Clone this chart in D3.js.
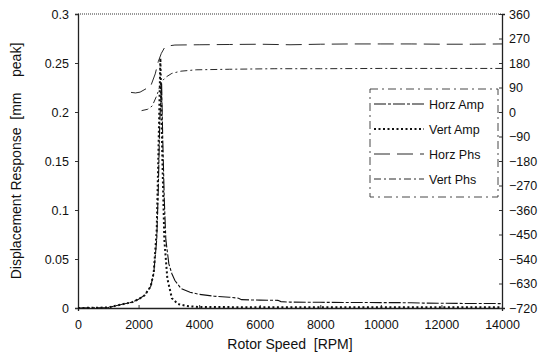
<!DOCTYPE html>
<html>
<head>
<meta charset="utf-8">
<script src="https://cdn.jsdelivr.net/npm/d3@7"></script>
<style>
  body { margin: 0; background: #fff; }
  text { font-family: "Liberation Sans", Arial, sans-serif; fill: #111; }
</style>
</head>
<body>
<div id="graph"></div>
<script>
const margin = { top: 14, right: 48, bottom: 50, left: 78 };
const w = 550 - margin.left - margin.right;
const h = 358 - margin.top - margin.bottom;

// 振幅資料 (RPM, mm)
const horzAmpRpm = [0, 1000, 1200, 1500, 1800, 2000, 2200, 2400, 2500, 2600, 2650, 2700, 2760, 2800, 2850, 2900, 3000, 3100, 3200, 3400, 3700, 4000, 4500, 5000, 5300, 5400, 6000, 6600, 6700, 7000, 8000, 9000, 10000, 11000, 11400, 12000, 13000, 14000];
const horzAmp = [0, 0.0005, 0.002, 0.004, 0.006, 0.009, 0.013, 0.022, 0.035, 0.07, 0.12, 0.19, 0.23, 0.17, 0.11, 0.07, 0.045, 0.035, 0.028, 0.02, 0.016, 0.014, 0.012, 0.011, 0.010, 0.0085, 0.008, 0.0078, 0.0065, 0.006, 0.0058, 0.0056, 0.0055, 0.0054, 0.005, 0.0048, 0.0046, 0.0045];
const vertAmpRpm = [0, 1000, 1200, 1500, 1800, 2000, 2200, 2400, 2500, 2600, 2650, 2720, 2780, 2850, 2950, 3100, 3300, 3600, 4000, 6000, 8000, 10000, 12000, 14000];
const vertAmp = [0, 0.0005, 0.002, 0.004, 0.006, 0.009, 0.013, 0.022, 0.036, 0.08, 0.15, 0.255, 0.16, 0.07, 0.03, 0.01, 0.004, 0.002, 0.001, 0.0008, 0.0008, 0.0007, 0.0007, 0.0007];

// 相位資料 (RPM, deg)
const horzPhsRpm = [1750, 1900, 2050, 2400, 2550, 2650, 2750, 2850, 3000, 3200, 4000, 5000, 6000, 7000, 8000, 9000, 10000, 11000, 12000, 13000, 14000];
const horzPhs = [72, 70, 73, 95, 140, 185, 215, 235, 243, 246, 247, 248, 249, 247, 249, 250, 250, 250, 249, 249, 250];
const vertPhsRpm = [2100, 2300, 2450, 2600, 2750, 2900, 3100, 3400, 3900, 5000, 6500, 8000, 10000, 12000, 14000];
const vertPhs = [5, 10, 22, 60, 110, 128, 142, 150, 155, 157, 159, 159, 160, 160, 160];

const xTicks = [0, 2000, 4000, 6000, 8000, 10000, 12000, 14000];
const yTicks = [0, 0.05, 0.1, 0.15, 0.2, 0.25, 0.3];
const phsTicks = [360, 270, 180, 90, 0, -90, -180, -270, -360, -450, -540, -630, -720];

const legendNames = ["Horz Amp", "Vert Amp", "Horz Phs", "Vert Phs"];
const styles = [
  { dash: "12,2,3,2", width: 1.1 },
  { dash: "2,2.5", width: 2 },
  { dash: "16,7", width: 0.9 },
  { dash: "7,3,2,3", width: 0.9 },
];

const xScale = d3.scaleLinear().domain([0, 14000]).range([0, w]);
const yScale = d3.scaleLinear().domain([0, 0.3]).range([h, 0]);
const pScale = d3.scaleLinear().domain([-720, 360]).range([h, 0]);

const svg = d3
  .select("#graph")
  .append("svg")
  .attr("width", 550)
  .attr("height", 358)
  .append("g")
  .attr("transform", "translate(" + margin.left + "," + margin.top + ")");

// 外框
svg.append("line").attr("x1", 0).attr("x2", w).attr("y1", 0).attr("y2", 0)
  .attr("stroke", "#333").attr("stroke-width", 1.2).attr("stroke-dasharray", "1,1");

const xAxis = d3.axisBottom(xScale).tickValues(xTicks).tickSize(3).tickFormat(d3.format("d"));
const gx = svg.append("g").attr("transform", "translate(0," + h + ")").call(xAxis);
gx.selectAll(".tick line").attr("y2", -3);
gx.selectAll(".tick text").attr("y", 12);

const yAxis = d3.axisLeft(yScale).tickValues(yTicks).tickSize(3).tickFormat((d) => d === 0 ? "0" : String(+d.toFixed(2)));
const gy = svg.append("g").call(yAxis);
gy.selectAll(".tick text").attr("x", -9);

const pAxis = d3.axisRight(pScale).tickValues(phsTicks).tickSize(3);
const gp = svg.append("g").attr("transform", "translate(" + w + ",0)").call(pAxis);
gp.selectAll(".tick line").attr("x2", -3);
gp.selectAll(".tick text").attr("x", 7);

svg.selectAll(".domain").attr("stroke", "#222").attr("stroke-width", 1.3);
svg.selectAll(".tick line").attr("stroke", "#333");
svg.selectAll(".tick text").attr("font-size", 12.5).attr("fill", "#111");

// 軸標題
svg.append("text")
  .attr("x", w / 2)
  .attr("y", h + 41)
  .attr("text-anchor", "middle")
  .attr("font-size", 14)
  .style("white-space", "pre")
  .text("Rotor Speed  [RPM]");

svg.append("text")
  .attr("transform", "translate(-57," + h / 2 + ") rotate(-90)")
  .attr("text-anchor", "middle")
  .attr("font-size", 14)
  .style("white-space", "pre")
  .text("Displacement Response  [mm    peak]");

// 曲線
const ampLine = (rpm) => d3.line().x((d, i) => xScale(rpm[i])).y((d) => yScale(d));
const phsLine = (rpm) => d3.line().x((d, i) => xScale(rpm[i])).y((d) => pScale(d));

const series = [
  { data: horzAmp, gen: ampLine(horzAmpRpm) },
  { data: vertAmp, gen: ampLine(vertAmpRpm) },
  { data: horzPhs, gen: phsLine(horzPhsRpm) },
  { data: vertPhs, gen: phsLine(vertPhsRpm) },
];

series.forEach((s, i) => {
  svg.append("path")
    .datum(s.data)
    .attr("d", s.gen)
    .attr("fill", "none")
    .attr("stroke", "#111")
    .attr("stroke-width", styles[i].width)
    .attr("stroke-dasharray", styles[i].dash);
});

// 圖例
const lg = svg.append("g").attr("transform", "translate(292,75)");
lg.append("rect")
  .attr("width", 128)
  .attr("height", 108)
  .attr("fill", "#fff")
  .attr("stroke", "#333")
  .attr("stroke-width", 0.9)
  .attr("stroke-dasharray", "8,4,2,4");

legendNames.forEach((name, i) => {
  const y = 15 + i * 25;
  lg.append("line")
    .attr("x1", 4).attr("x2", 54).attr("y1", y).attr("y2", y)
    .attr("stroke", "#111")
    .attr("stroke-width", styles[i].width)
    .attr("stroke-dasharray", styles[i].dash);
  lg.append("text")
    .attr("x", 59).attr("y", y + 4.5)
    .attr("font-size", 12.5)
    .text(name);
});
</script>
</body>
</html>
